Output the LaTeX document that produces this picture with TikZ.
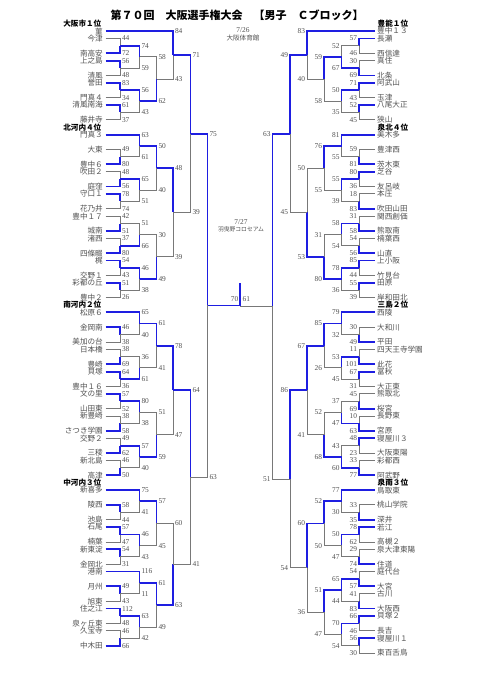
\documentclass[tikz,border=0pt]{standalone}
\usepackage{fontspec}
\setmainfont{Liberation Serif}
\newfontfamily\jpfont{Noto Sans CJK JP}
\usepackage{tikz}
\usetikzlibrary{positioning}
\definecolor{winblue}{RGB}{30,30,225}
\definecolor{losegray}{RGB}{120,120,120}
\definecolor{namegray}{RGB}{80,80,80}

% round columns, left and right half (0 = end of the team line)
\def\colL{{105.5,120,139.5,156.5,173,190.5,207.5}}
\def\colR{{374.5,359,341.5,324,307,290,272.5}}

% one game: side, round, top row/start column/score, bottom row/start column/score
\newcommand{\bout}[8]{%
  \expandafter\let\expandafter\cols\csname col#1\endcsname
  \pgfmathsetmacro\bxm{\cols[#2]}%
  \pgfmathsetmacro\bxt{\cols[#4]}%
  \pgfmathsetmacro\bxb{\cols[#7]}%
  \pgfmathsetmacro\byt{31+7.405*#3}%
  \pgfmathsetmacro\byb{31+7.405*#6}%
  \pgfmathsetmacro\bym{(\byt+\byb)/2}%
  \ifnum#5>#8\relax
    \draw[lose] (\bxb,\byb) -| (\bxm,\bym);
    \draw[win] (\bxt,\byt) -| (\bxm,\bym);
  \else
    \draw[lose] (\bxt,\byt) -| (\bxm,\bym);
    \draw[win] (\bxb,\byb) -| (\bxm,\bym);
  \fi
  \node[sc#1] at (\bxm,\byt) {#5};
  \node[sc#1] at (\bxm,\byb) {#8};
}

\begin{document}
\begin{tikzpicture}[x=1pt,y=-1pt,
  win/.style={draw=winblue,line width=1.8pt},
  lose/.style={draw=losegray,line width=0.9pt},
  team/.style={font=\jpfont\fontsize{7.6}{8}\selectfont,text=namegray,inner sep=0pt},
  seed/.style={font=\jpfont\bfseries\fontsize{7.6}{8}\selectfont,inner sep=0pt},
  score/.style={font=\fontsize{7.4}{8}\selectfont,text=namegray,inner sep=0pt},
  scL/.style={score,anchor=west,xshift=1.8pt},
  scR/.style={score,anchor=east,xshift=-1.8pt},
  place/.style={font=\jpfont\fontsize{6.6}{7}\selectfont,text=namegray,inner sep=0pt}
]
\useasboundingbox (0,0) rectangle (481,680);

\node[font=\jpfont\bfseries\fontsize{11}{12}\selectfont,inner sep=0pt] (title) at (237,15)
  {第７０回　大阪選手権大会　【男子　Ｃブロック】};

% venues
\node[score] (d1) at (243,30.5) {7/26};
\node[place,below=1.8pt of d1] (v1) {大阪体育館};
\node[score] (d2) at (241,222) {7/27};
\node[place,font=\jpfont\fontsize{5.8}{6}\selectfont,below=1.8pt of d2] (v2) {羽曳野コロセアム};

% seeds of each block
\foreach \k/\s in {-1/大阪市１位,13/北河内４位,37/南河内２位,61/中河内３位}
  \node[seed,anchor=east] (hl\k) at (101.5,{31+7.405*\k}) {\s};
\foreach \k/\s in {-1/豊能１位,13/泉北４位,37/三島２位,61/泉南３位}
  \node[seed,anchor=west] (hr\k) at (377.5,{31+7.405*\k}) {\s};

% teams
\foreach \k/\s in {0/菫,1/今津,3/南高安,4/上之島,6/清風,7/誉田,9/門真４,10/清風南海,
  12/藤井寺,14/門真３,16/大東,18/豊中６,19/吹田２,21/庭窪,22/守口１,24/花乃井,
  25/豊中１７,27/城南,28/渚西,30/四條畷,31/梶,33/交野１,34/彩都の丘,36/豊中２,
  38/松原６,40/金岡南,42/美加の台,43/日本橋,45/豊崎,46/貝塚,48/豊中１６,49/文の里,
  51/山田東,52/新豊崎,54/さつき学園,55/交野２,57/三稜,58/新北島,60/高津,62/新喜多,
  64/陵西,66/池島,67/石尾,69/楠葉,70/新東淀,72/金岡北,73/港南,75/月州,77/旭東,
  78/住之江,80/泉ヶ丘東,81/久宝寺,83/中木田}
  \node[team,anchor=east] (tl\k) at (103,{31+7.405*\k}) {\s};
\foreach \k/\s in {0/豊中１３,1/長瀬,3/西信達,4/真住,6/北条,7/阿武山,9/玉津,10/八尾大正,
  12/狭山,14/美木多,16/豊津西,18/茨木東,19/芝谷,21/友呂岐,22/本庄,24/吹田山田,
  25/関西創価,27/熊取南,28/楠葉西,30/山直,31/上小阪,33/竹見台,34/田原,36/岸和田北,
  38/西陵,40/大和川,42/平田,43/四天王寺学園,45/此花,46/富秋,48/大正東,49/熊取北,
  51/桜宮,52/長野東,54/宮原,55/寝屋川３,57/大阪東陽,58/彩都西,60/阿武野,62/鳥取東,
  64/桃山学院,66/深井,67/若江,69/高槻２,70/泉大津東陽,72/住道,73/庭代台,75/大宮,
  76/古川,78/大阪西,79/貝塚２,81/長吉,82/寝屋川１,84/東百舌鳥}
  \node[team,anchor=west] (tr\k) at (377,{31+7.405*\k}) {\s};

% left half: round/top row/top column/top score/bottom row/bottom column/bottom score
\foreach \rd/\ka/\ca/\sa/\kb/\cb/\sz in {
  1/1/0/44/3/0/72, 1/4/0/56/6/0/48, 1/7/0/83/9/0/34, 1/10/0/61/12/0/37,
  1/16/0/49/18/0/80, 1/19/0/48/21/0/56, 1/22/0/78/24/0/74, 1/25/0/42/27/0/51,
  1/28/0/37/30/0/80, 1/31/0/54/33/0/43, 1/34/0/51/36/0/26,
  1/40/0/46/42/0/38, 1/43/0/38/45/0/69, 1/46/0/64/48/0/36, 1/49/0/57/51/0/52,
  1/52/0/38/54/0/58, 1/55/0/49/57/0/62, 1/58/0/46/60/0/50,
  1/64/0/58/66/0/44, 1/67/0/57/69/0/47, 1/70/0/54/72/0/31, 1/75/0/49/77/0/43,
  1/78/0/112/80/0/48, 1/81/0/46/83/0/66,
  2/2/1/74/5/1/59, 2/8/1/56/11/1/43,
  2/14/0/63/17/1/61, 2/20/1/65/23/1/51, 2/26/1/51/29/1/66, 2/32/1/46/35/1/38,
  2/38/0/65/41/1/40, 2/44/1/36/47/1/61, 2/50/1/80/53/1/38, 2/56/1/57/59/1/40,
  2/62/0/75/65/1/41, 2/68/1/46/71/1/43, 2/73/0/116/76/1/11, 2/79/1/63/82/1/42,
  3/3.5/2/58/9.5/2/62, 3/15.5/2/50/21.5/2/40, 3/27.5/2/30/33.5/2/49,
  3/39.5/2/61/45.5/2/41, 3/51.5/2/51/57.5/2/59,
  3/63.5/2/57/69.5/2/45, 3/74.5/2/61/80.5/2/49,
  4/0/0/84/6.5/3/43, 4/18.5/3/48/30.5/3/39, 4/42.5/3/78/54.5/3/47, 4/66.5/3/60/77.5/3/63,
  5/3.25/4/71/24.5/4/39, 5/48.5/4/64/72/4/41,
  6/13.875/5/75/60.25/5/63}
  {\bout{L}{\rd}{\ka}{\ca}{\sa}{\kb}{\cb}{\sz}}

% right half
\foreach \rd/\ka/\ca/\sa/\kb/\cb/\sz in {
  1/1/0/57/3/0/46, 1/4/0/30/6/0/69, 1/7/0/71/9/0/43, 1/10/0/52/12/0/45,
  1/16/0/59/18/0/81, 1/19/0/80/21/0/36, 1/22/0/18/24/0/83, 1/25/0/31/27/0/58,
  1/28/0/54/30/0/56, 1/31/0/85/33/0/44, 1/34/0/55/36/0/39,
  1/40/0/30/42/0/49, 1/43/0/11/45/0/101, 1/46/0/67/48/0/31, 1/49/0/45/51/0/69,
  1/52/0/10/54/0/63, 1/55/0/48/57/0/23, 1/58/0/33/60/0/77,
  1/64/0/33/66/0/35, 1/67/0/78/69/0/62, 1/70/0/29/72/0/74, 1/73/0/54/75/0/57,
  1/76/0/41/78/0/83, 1/79/0/66/81/0/46, 1/82/0/56/84/0/30,
  2/2/1/52/5/1/67, 2/8/1/50/11/1/35,
  2/14/0/81/17/1/55, 2/20/1/55/23/1/39, 2/26/1/58/29/1/54, 2/32/1/78/35/1/36,
  2/38/0/79/41/1/32, 2/44/1/53/47/1/45, 2/50/1/37/53/1/47, 2/56/1/43/59/1/60,
  2/62/0/77/65/1/30, 2/68/1/50/71/1/47, 2/74/1/65/77/1/44, 2/80/1/70/83/1/54,
  3/3.5/2/59/9.5/2/58, 3/15.5/2/76/21.5/2/55, 3/27.5/2/31/33.5/2/80,
  3/39.5/2/85/45.5/2/26, 3/51.5/2/52/57.5/2/68,
  3/63.5/2/52/69.5/2/50, 3/75.5/2/51/81.5/2/47,
  4/0/0/83/6.5/3/40, 4/18.5/3/50/30.5/3/53, 4/42.5/3/67/54.5/3/41, 4/66.5/3/60/78.5/3/36,
  5/3.25/4/49/24.5/4/45, 5/48.5/4/86/72.5/4/54,
  6/13.875/5/63/60.5/5/51}
  {\bout{R}{\rd}{\ka}{\ca}{\sa}{\kb}{\cb}{\sz}}

% final
\coordinate (finL) at (207.5,{31+7.405*37.0625});
\coordinate (finR) at (272.5,{31+7.405*37.1875});
\coordinate (fin) at (240,{31+7.405*37.0625});
\coordinate (champ) at (240,283);
\draw[lose] (finR) -- (fin |- finR);
\draw[win] (finL) -- (fin) -- (champ);
\node[score,anchor=east] (fs1) at ([xshift=-1.5pt,yshift=6.5pt]fin) {70};
\node[score,anchor=west] (fs2) at ([xshift=2.5pt,yshift=6.5pt]fin) {61};
\end{tikzpicture}
\end{document}
